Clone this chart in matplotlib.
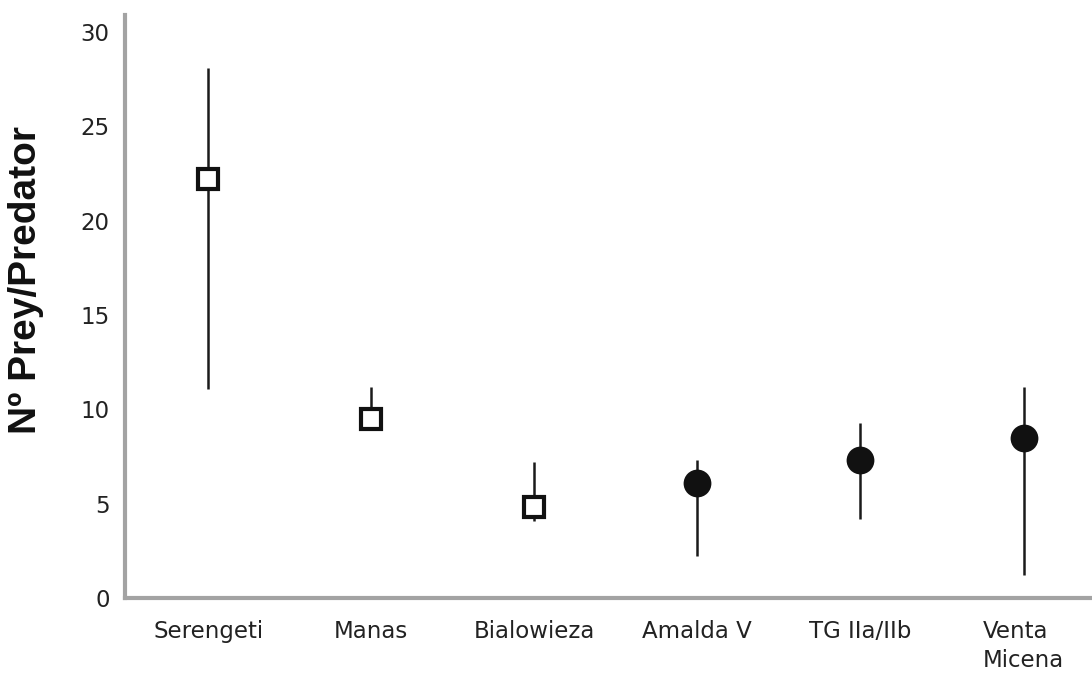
import matplotlib
matplotlib.use("Agg")
import matplotlib.pyplot as plt
import numpy as np

# Prey-to-predator ratios per community (modern vs. fossil)
sites = ["Serengeti", "Manas", "Bialowieza", "Amalda V", "TG IIa/IIb", "Venta\nMicena"]
ratio = [22.2, 9.5, 4.8, 6.1, 7.3, 8.5]
ratio_low = [11.1, 9.0, 4.1, 2.2, 4.2, 1.2]
ratio_high = [28.1, 11.2, 7.2, 7.3, 9.3, 11.2]
is_fossil = [False, False, False, True, True, True]
y_ticks = [0, 5, 10, 15, 20, 25, 30]

fig = plt.figure(figsize=(10.92, 6.73), dpi=100)
ax = fig.add_axes([125 / 1092, 75 / 673, 1 - 125 / 1092, (598 - 15) / 673])

x = np.arange(len(sites))
ratio = np.array(ratio)
yerr = np.vstack([ratio - np.array(ratio_low), np.array(ratio_high) - ratio])

for xi, yi, lo, hi, fossil in zip(x, ratio, yerr[0], yerr[1], is_fossil):
    if fossil:
        style = dict(marker="o", markersize=20, markerfacecolor="#111111",
                     markeredgecolor="#111111", markeredgewidth=0)
    else:
        style = dict(marker="s", markersize=14, markerfacecolor="white",
                     markeredgecolor="#111111", markeredgewidth=3.0)
    ax.errorbar([xi], [yi], yerr=[[lo], [hi]], fmt="none", ecolor="#1a1a1a",
                elinewidth=1.8, capsize=0, zorder=2)
    ax.plot([xi], [yi], linestyle="none", zorder=3, **style)

ax.set_xlim(-0.51, 5.42)
ax.set_ylim(0, 30.9)
ax.set_yticks(y_ticks)
ax.set_xticks(x)
ax.set_xticklabels(sites, multialignment="left", linespacing=1.3)

for side in ("top", "right"):
    ax.spines[side].set_visible(False)
for side in ("left", "bottom"):
    ax.spines[side].set_color("#a3a3a3")
    ax.spines[side].set_linewidth(3)

ax.tick_params(axis="both", length=0, labelsize=16.5, colors="#222222")
ax.tick_params(axis="y", pad=11)
ax.tick_params(axis="x", pad=16)
for lab in ax.get_xticklabels() + ax.get_yticklabels():
    lab.set_fontfamily("DejaVu Sans")

ax.set_ylabel("Nº Prey/Predator", fontsize=28, fontweight="bold",
              fontfamily="Liberation Sans", color="#111111")
ax.yaxis.set_label_coords(-0.084, 0.545)

fig.savefig("out.png", dpi=100)
